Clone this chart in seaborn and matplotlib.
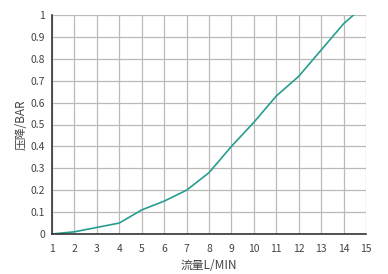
import matplotlib
matplotlib.use("Agg")
import matplotlib.pyplot as plt
import seaborn as sns
import pandas as pd

flow = [1, 2, 3, 4, 5, 6, 7, 8, 9, 10, 11, 12, 13, 14, 15]
pressure = [0, 0.01, 0.03, 0.05, 0.11, 0.15, 0.20, 0.28, 0.40, 0.51, 0.63, 0.72, 0.84, 0.96, 1.05]
x_ticks = list(range(1, 16))
y_ticks = [0, 0.1, 0.2, 0.3, 0.4, 0.5, 0.6, 0.7, 0.8, 0.9, 1]
y_labels = ["0", "0.1", "0.2", "0.3", "0.4", "0.5", "0.6", "0.7", "0.8", "0.9", "1"]

sns.set_theme(style="white")
plt.rcParams['font.family'] = ['Noto Sans CJK SC', 'DejaVu Sans']

df = pd.DataFrame({"flow": flow, "pressure": pressure})
fig = plt.figure(figsize=(3.88, 2.74), dpi=100)
ax = fig.add_axes([52/388, 1-234/274, 314/388, 219/274])
sns.lineplot(data=df, x="flow", y="pressure", ax=ax, color="#269e8f", linewidth=1.2)
ax.set_xlim(1, 15)
ax.set_ylim(0, 1)
ax.set_xticks(x_ticks)
ax.set_yticks(y_ticks)
ax.set_yticklabels(y_labels)
ax.grid(True, color="#bdb9b9", linewidth=0.9)
for s in ["top", "right"]:
    ax.spines[s].set_visible(False)
ax.spines["left"].set_color("#333333")
ax.spines["bottom"].set_color("#333333")
ax.spines["left"].set_linewidth(1.2)
ax.spines["bottom"].set_linewidth(1.2)
ax.tick_params(axis="both", labelsize=7.5, colors="#444444", length=0)
ax.tick_params(axis="x", pad=7)
ax.tick_params(axis="y", pad=5)
ax.set_xlabel("流量L/MIN", fontsize=8.5, color="#444444", labelpad=4)
ax.set_ylabel("压降/BAR", fontsize=8.5, color="#444444", labelpad=2)
fig.savefig("out.png", dpi=100, facecolor="white")
